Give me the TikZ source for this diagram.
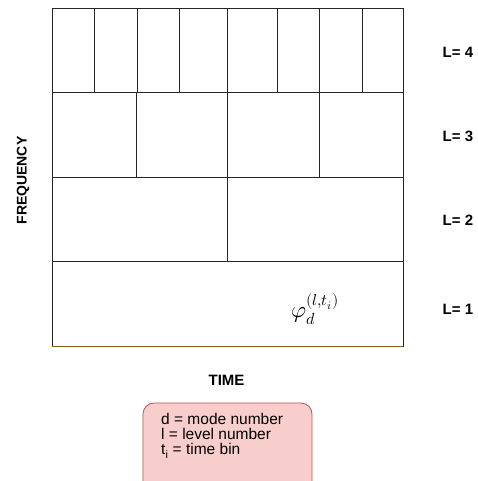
\documentclass[tikz,border=0pt]{standalone}
\usepackage{fontspec}
\setmainfont{Liberation Sans}
\usepackage{unicode-math}
\definecolor{legfill}{HTML}{F8CECC}
\definecolor{legdraw}{HTML}{B85450}
\definecolor{bline}{HTML}{7A5A10}
\begin{document}
\begin{tikzpicture}[x=1pt,y=-1pt,
  cell/.style={draw=black!85,line width=1pt},
  lvl/.style={font=\fontsize{15}{17}\selectfont\bfseries,anchor=west,inner sep=0pt},
  axis/.style={font=\fontsize{15}{17}\selectfont\bfseries,inner sep=0pt},
  legend/.style={draw=legdraw,fill=legfill,rounded corners=11pt,line width=0.8pt}]
\useasboundingbox (0,0) rectangle (478,481);
\clip (0,0) rectangle (478,481);
% level 4
\foreach \a/\b in {52/94,94/137,137/179,179/227,227/277,277/319,319/362,362/403}
  \draw[cell] (\a,9) rectangle (\b,93);
% level 3
\foreach \a/\b in {52/136,136/227,227/319,319/403}
  \draw[cell] (\a,93) rectangle (\b,177);
% level 2
\foreach \a/\b in {52/227,227/403}
  \draw[cell] (\a,177) rectangle (\b,261);
% level 1
\draw[cell] (52,261) rectangle (403,346);
\draw[line width=0.8pt,draw=bline] (52,346.6) -- (403,346.6);
\node (phi) at (315,309) {\fontsize{23}{26}\selectfont$\varphi_d^{(l,t_i)}$};
% level labels
\node[lvl] (l4) at (442.5,52) {L= 4};
\node[lvl] (l3) at (442.5,136) {L= 3};
\node[lvl] (l2) at (442.5,220) {L= 2};
\node[lvl] (l1) at (442.5,309) {L= 1};
% axis labels
\node[axis] (time) at (226.5,380) {TIME};
\node[axis,rotate=90,font=\fontsize{14}{16}\selectfont\bfseries] (freq) at (23,180.5) {FREQUENCY};
% legend
\draw[legend] (143,403) rectangle (312,500);
\node[anchor=north west,align=left,font=\fontsize{15.5}{15}\selectfont,inner sep=0pt] (leg) at (161,413)
  {d = mode number\\ l = level number\\ t\textsubscript{i} = time bin};
\end{tikzpicture}
\end{document}
